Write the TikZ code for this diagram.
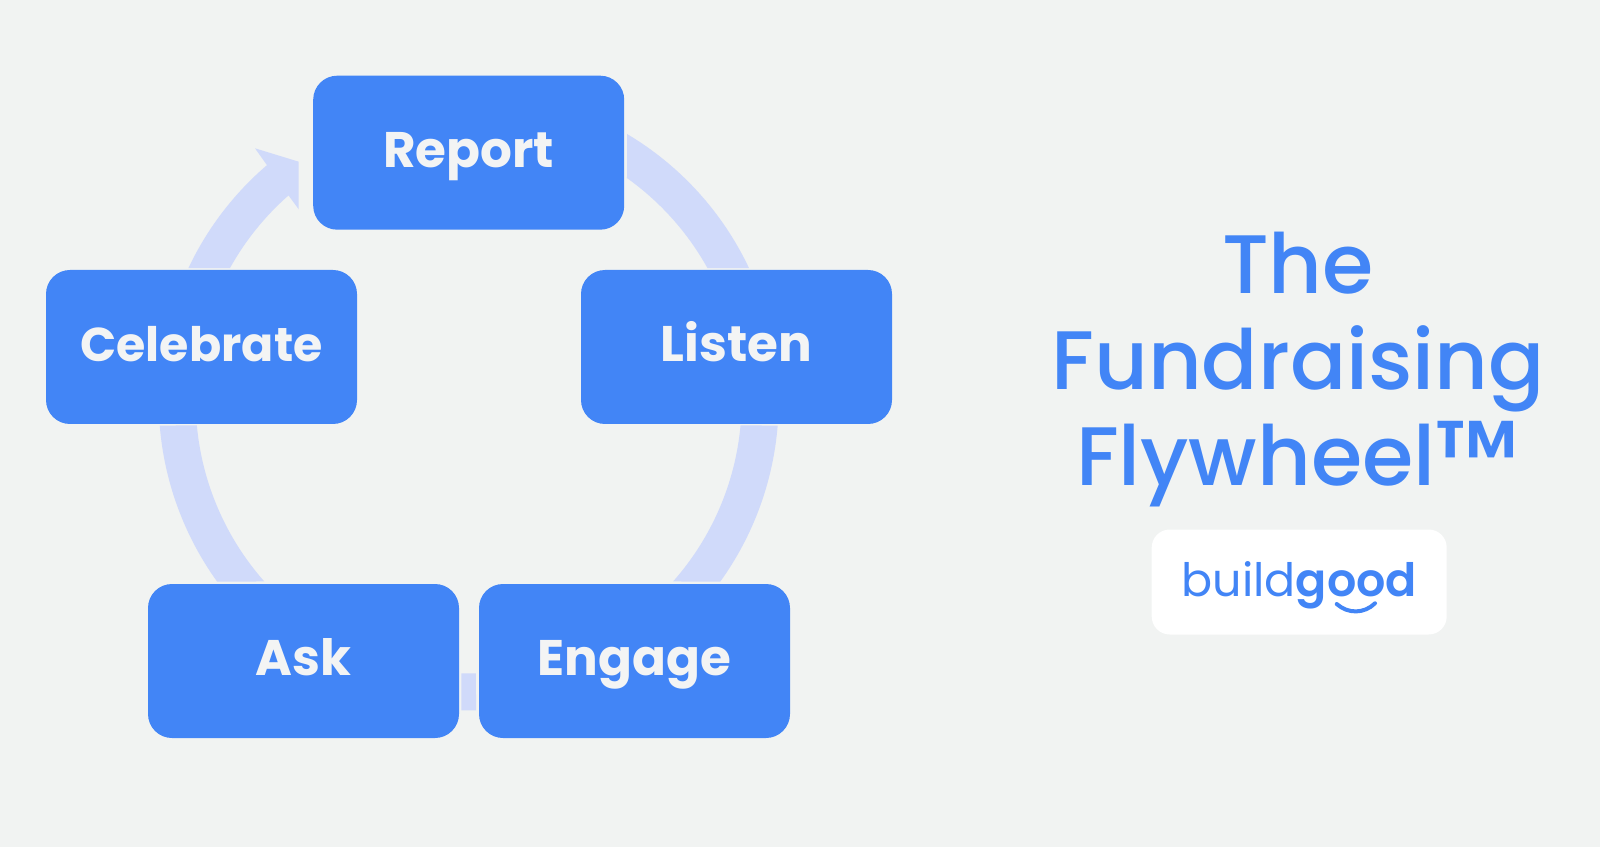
\documentclass[tikz,border=0pt]{standalone}
\usepackage{fontspec}
\setmainfont{Poppins}
\newfontfamily\titlefont{Poppins Medium}
\newfontfamily\logogood{Poppins SemiBold}
\definecolor{pagegrey}{HTML}{F1F3F2}
\definecolor{boxblue}{HTML}{4285F6}
\definecolor{bandblue}{HTML}{D0DAFA}
\definecolor{labelwhite}{HTML}{F3F4F4}

\begin{document}
\begin{tikzpicture}[x=1pt,y=1pt]
	\tikzset{
	stage/.style={rectangle,fill=boxblue,draw=none,rounded corners=24pt,minimum width=311pt,minimum height=154pt,inner sep=0pt,text height=35pt,text depth=5.4pt,text=labelwhite,font=\fontsize{50}{50}\selectfont\bfseries},
	band/.style={fill=bandblue,draw=none}}

	\def\rout{310};
	\def\rin{273};

	\fill[pagegrey] (0,0) rectangle (1600,847);
	\useasboundingbox (0,0) rectangle (1600,847);

	\coordinate (hub) at (468.7,446.5);

	%bands
	\begin{scope}[shift={(hub)}]
	\fill[band] (59.29:\rout) arc (59.29:25.3:\rout) -- (29.03:\rin) arc (29.03:54.56:\rin) -- cycle;
	\fill[band] (-4.63:\rout) arc (-4.63:-35.73:\rout) -- (-41.53:\rin) arc (-41.53:-5.25:\rin) -- cycle;
	\fill[band] (-91.35:\rout) arc (-91.35:-88.65:\rout) -- (-88.47:\rin) arc (-88.47:-91.53:\rin) -- cycle;
	\fill[band] (215.73:\rout) arc (215.73:184.63:\rout) -- (185.25:\rin) arc (185.25:221.53:\rin) -- cycle;
	\coordinate (tipa) at (-213.7,252.2);
	\coordinate (tipb) at (-170,238.8);
	\coordinate (tipc) at (-170,191.2);
	\fill[band] (154.7:\rout) arc (154.7:130.6:\rout) -- (tipa) -- (tipb) -- (tipc) -- (131.3:\rin) arc (131.3:150.97:\rin) -- cycle;
	\end{scope}

	%stages
	\node[stage] (report) at (468.7,694.3) {Report};
	\node[stage] (listen) at (736.5,500) {Listen};
	\node[stage] (engage) at (634.5,186) {Engage};
	\node[stage] (ask) at (303.5,186) {Ask};
	\node[stage, font=\fontsize{47.5}{47.5}\selectfont\bfseries] (celebrate) at (201.5,500) {Celebrate};

	%title
	\node[text=boxblue, align=center, font=\titlefont\fontsize{83}{96}\selectfont] (title) at (1298,477) {The\\Fundraising\\Flywheel\raisebox{-9pt}{\fontsize{104}{96}\selectfont ™}};

	%logo
	\node[fill=white, rounded corners=18pt, minimum width=295pt, minimum height=105pt, inner sep=0pt] (logobox) at (1299.2,265) {};
	\node[text=boxblue, inner sep=0pt, yshift=-3pt, font=\fontsize{46}{46}\selectfont] (logo) at (logobox.center) {build{\logogood good}};
	\coordinate (smilea) at (1336.7,243);
	\coordinate (smileb) at (1375,243.7);
	\draw[boxblue, line width=4pt, line cap=round] (smilea) .. controls (1348,233) and (1364,233) .. (smileb);
\end{tikzpicture}
\end{document}
